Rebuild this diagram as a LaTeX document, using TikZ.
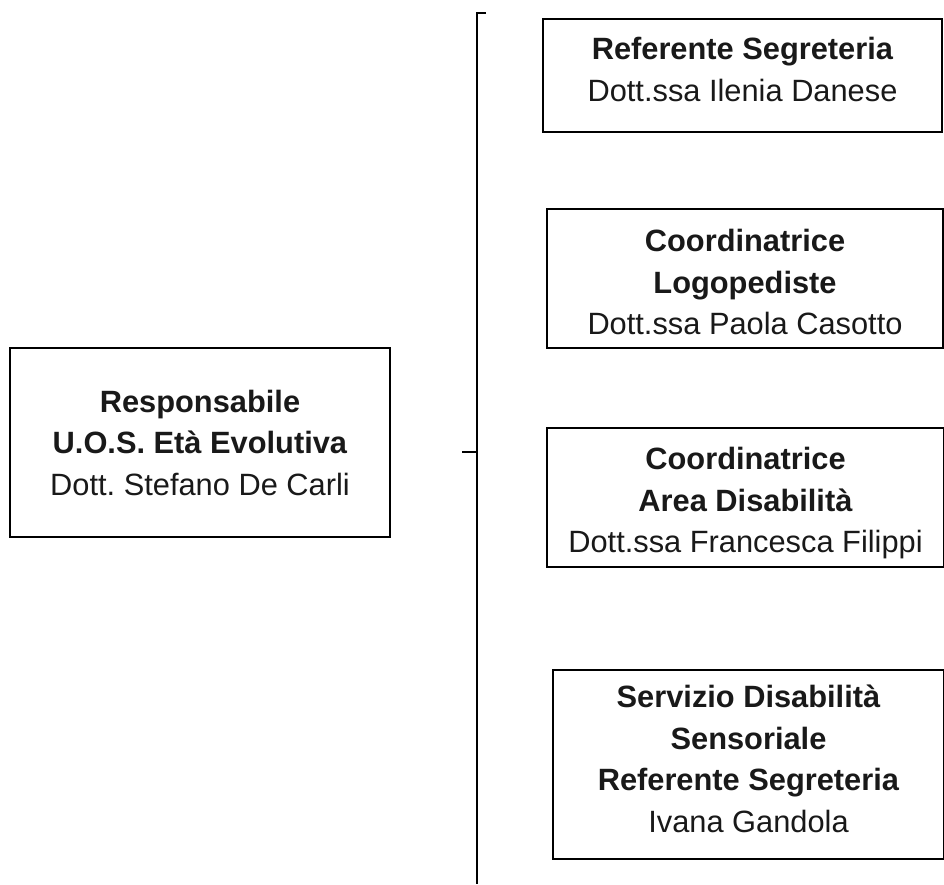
\documentclass[tikz,border=0pt]{standalone}
\usepackage{fontspec}
\setmainfont{Liberation Sans}
\frenchspacing
\usetikzlibrary{positioning}
\tikzset{ufficio/.style={draw, line width=1.6pt, align=center, inner sep=0pt,
    font=\fontsize{30.8}{41.5}\selectfont, text=black!90},
  tratto/.style={line width=1.6pt}}

\begin{document}
\begin{tikzpicture}[x=1pt, y=-1pt]
\useasboundingbox (0,0) rectangle (944,884);
\node[ufficio, minimum width=380pt, minimum height=189pt] (resp) at (200,442.5)
  {\textbf{Responsabile}\\\textbf{U.O.S. Età Evolutiva}\\Dott. Stefano De Carli};
\node[ufficio, minimum width=399pt, minimum height=113pt] (segr) at (742.5,75.5)
  {\textbf{Referente Segreteria}\\Dott.ssa Ilenia Danese\rule[-12pt]{0pt}{0pt}};
\node[ufficio, minimum width=396pt, minimum height=139pt] (logo) at (745,278.5)
  {\rule{0pt}{30pt}\textbf{Coordinatrice}\\\textbf{Logopediste}\\Dott.ssa Paola Casotto};
\node[ufficio, minimum width=397pt, minimum height=139pt] (disab) at (745.5,497.5)
  {\rule{0pt}{34pt}\textbf{Coordinatrice}\\\textbf{Area Disabilità}\\Dott.ssa Francesca Filippi};
\node[ufficio, minimum width=391pt, minimum height=189pt] (sens) at (748.5,764.5)
  {\textbf{Servizio Disabilità}\\\textbf{Sensoriale}\\\textbf{Referente Segreteria}\\Ivana Gandola\rule[-12pt]{0pt}{0pt}};
\coordinate (cima) at (486,13);
\coordinate (fondo) at (477,884);
\coordinate (dente) at (462,452);
\draw[tratto] (cima) -- (cima -| fondo) -- (fondo);
\draw[tratto] (dente) -- (dente -| fondo);
\end{tikzpicture}
\end{document}
